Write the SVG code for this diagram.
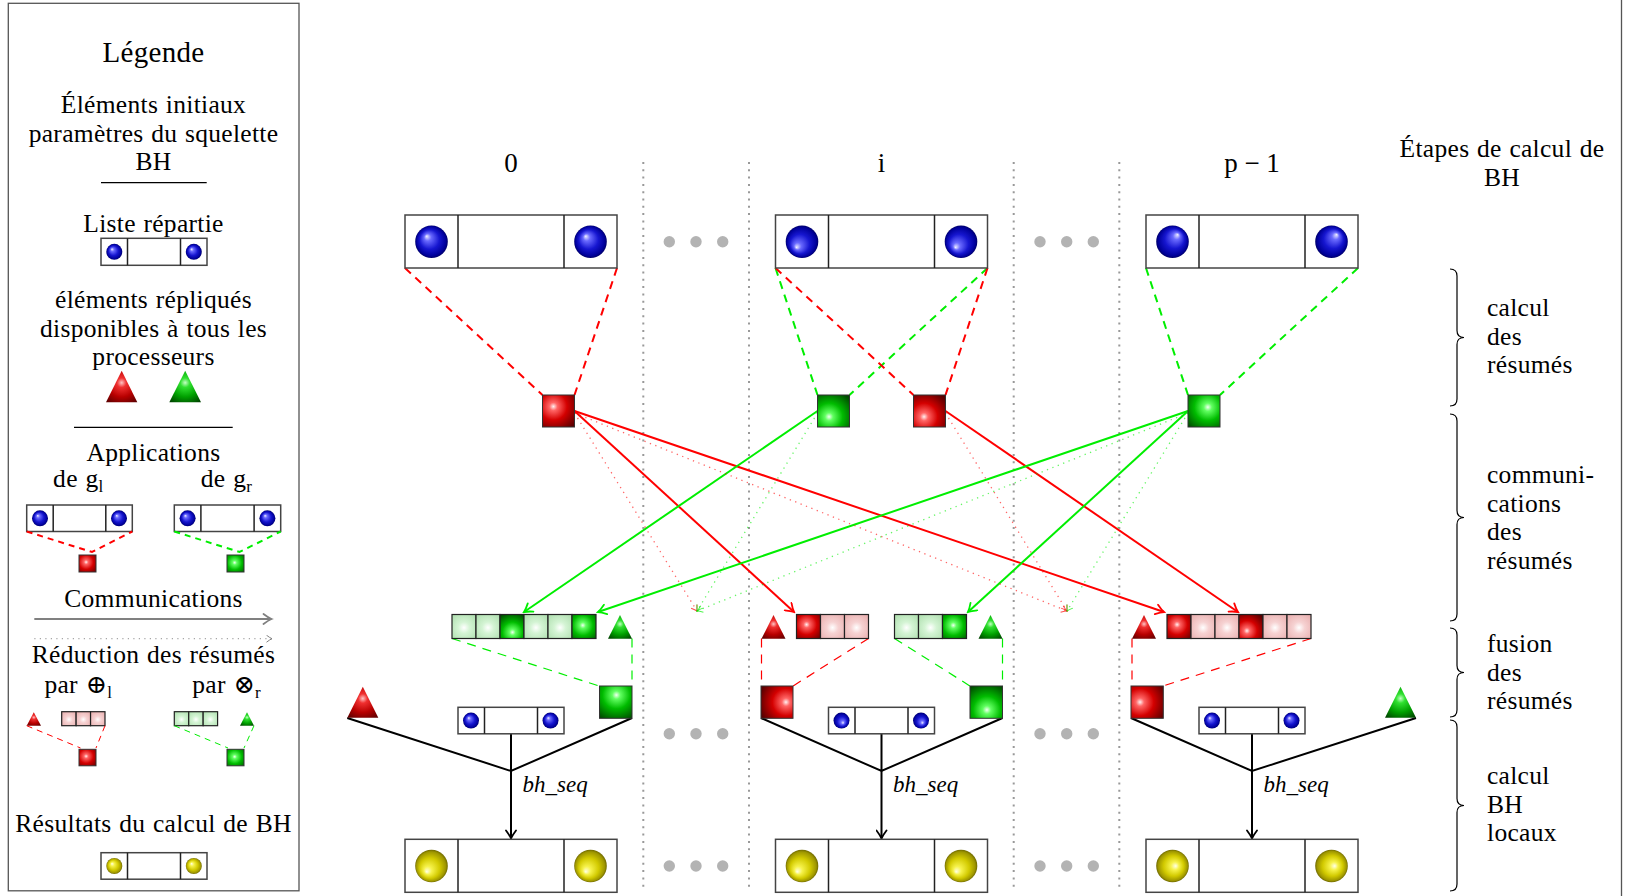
<svg xmlns="http://www.w3.org/2000/svg" width="1626" height="896" viewBox="0 0 1626 896">
<style>
.t{font-family:"Liberation Serif","DejaVu Serif",serif;font-size:25.5px;letter-spacing:0.3px;word-spacing:1px;fill:#000}
.c{text-anchor:middle}
.m{font-family:"Liberation Serif","DejaVu Serif",serif;font-size:27px;fill:#000;text-anchor:middle}
.it{font-family:"Liberation Serif","DejaVu Serif",serif;font-size:23px;font-style:italic;fill:#000}
.box{fill:#fff;stroke:#444;stroke-width:1.5}
.dv{stroke:#222;stroke-width:1.5}
.cell{stroke:#222;stroke-width:1.2}
.sq{stroke:#333;stroke-width:1}
.sep{stroke:#999;stroke-width:2;stroke-dasharray:2 5.3;fill:none}
.gd{fill:#b3b3b3}
.dR{stroke:#ff0000;stroke-width:2;stroke-dasharray:8 6;fill:none}
.dG{stroke:#00ee00;stroke-width:2;stroke-dasharray:8 6;fill:none}
.fR{stroke:#ff0000;stroke-width:1.2;stroke-dasharray:9 7;fill:none}
.fG{stroke:#00ee00;stroke-width:1.2;stroke-dasharray:9 7;fill:none}
.aR{stroke:#ff0000;stroke-width:2;fill:none;marker-end:url(#ahR)}
.aG{stroke:#00ee00;stroke-width:2;fill:none;marker-end:url(#ahG)}
.pR{stroke:#ff0000;stroke-opacity:0.6;stroke-width:1.3;stroke-dasharray:1.3 4.5;fill:none;marker-end:url(#phR)}
.pG{stroke:#00ee00;stroke-opacity:0.6;stroke-width:1.3;stroke-dasharray:1.3 4.5;fill:none;marker-end:url(#phG)}
.bl{stroke:#000;stroke-width:2;fill:none}
.rule{stroke:#000;stroke-width:1.3}
.brace{stroke:#000;stroke-width:1.2;fill:none}
</style>
<defs>
<marker id="ahR" viewBox="-10 -6 12 12" refX="0" refY="0" markerWidth="12" markerHeight="12" markerUnits="userSpaceOnUse" orient="auto"><path d="M-8,-5 Q-3,-1.2 0,0 Q-3,1.2 -8,5" fill="none" stroke="#ff0000" stroke-width="1.8" stroke-linecap="round"/></marker>
<marker id="ahG" viewBox="-10 -6 12 12" refX="0" refY="0" markerWidth="12" markerHeight="12" markerUnits="userSpaceOnUse" orient="auto"><path d="M-8,-5 Q-3,-1.2 0,0 Q-3,1.2 -8,5" fill="none" stroke="#00ee00" stroke-width="1.8" stroke-linecap="round"/></marker>
<marker id="ahK" viewBox="-10 -6 12 12" refX="0" refY="0" markerWidth="12" markerHeight="12" markerUnits="userSpaceOnUse" orient="auto"><path d="M-8,-5 Q-3,-1.2 0,0 Q-3,1.2 -8,5" fill="none" stroke="#000" stroke-width="1.8" stroke-linecap="round"/></marker>
<marker id="ahY" viewBox="-10 -6 12 12" refX="0" refY="0" markerWidth="12" markerHeight="12" markerUnits="userSpaceOnUse" orient="auto"><path d="M-8,-5 Q-3,-1.2 0,0 Q-3,1.2 -8,5" fill="none" stroke="#808080" stroke-width="1.8" stroke-linecap="round"/></marker>
<marker id="phR" viewBox="-7 -4 8 8" refX="0" refY="0" markerWidth="8" markerHeight="8" markerUnits="userSpaceOnUse" orient="auto"><path d="M-5.5,-3.5 Q-2,-0.8 0,0 Q-2,0.8 -5.5,3.5" fill="none" stroke="#ff0000" stroke-opacity="0.7" stroke-width="1"/></marker>
<marker id="phG" viewBox="-7 -4 8 8" refX="0" refY="0" markerWidth="8" markerHeight="8" markerUnits="userSpaceOnUse" orient="auto"><path d="M-5.5,-3.5 Q-2,-0.8 0,0 Q-2,0.8 -5.5,3.5" fill="none" stroke="#00ee00" stroke-opacity="0.7" stroke-width="1"/></marker>
<marker id="phY" viewBox="-7 -4 8 8" refX="0" refY="0" markerWidth="8" markerHeight="8" markerUnits="userSpaceOnUse" orient="auto"><path d="M-5.5,-3.5 Q-2,-0.8 0,0 Q-2,0.8 -5.5,3.5" fill="none" stroke="#808080" stroke-width="1"/></marker>

<radialGradient id="bUL" cx="0.5" cy="0.5" r="0.5" fx="0.35" fy="0.33"><stop offset="0" stop-color="#f2f2ff"/><stop offset="0.22" stop-color="#6a6aff"/><stop offset="0.6" stop-color="#1616d0"/><stop offset="0.9" stop-color="#00009a"/><stop offset="1" stop-color="#00006a"/></radialGradient>
<radialGradient id="bLL" cx="0.5" cy="0.5" r="0.5" fx="0.33" fy="0.68"><stop offset="0" stop-color="#f2f2ff"/><stop offset="0.22" stop-color="#6a6aff"/><stop offset="0.6" stop-color="#1616d0"/><stop offset="0.9" stop-color="#00009a"/><stop offset="1" stop-color="#00006a"/></radialGradient>
<radialGradient id="bUR" cx="0.5" cy="0.5" r="0.5" fx="0.66" fy="0.28"><stop offset="0" stop-color="#f2f2ff"/><stop offset="0.22" stop-color="#6a6aff"/><stop offset="0.6" stop-color="#1616d0"/><stop offset="0.9" stop-color="#00009a"/><stop offset="1" stop-color="#00006a"/></radialGradient>
<radialGradient id="bLR" cx="0.5" cy="0.5" r="0.5" fx="0.6" fy="0.65"><stop offset="0" stop-color="#f2f2ff"/><stop offset="0.22" stop-color="#6a6aff"/><stop offset="0.6" stop-color="#1616d0"/><stop offset="0.9" stop-color="#00009a"/><stop offset="1" stop-color="#00006a"/></radialGradient>
<radialGradient id="yLL" cx="0.5" cy="0.5" r="0.5" fx="0.35" fy="0.68"><stop offset="0" stop-color="#ffffea"/><stop offset="0.25" stop-color="#f6f24a"/><stop offset="0.62" stop-color="#d2ca00"/><stop offset="0.9" stop-color="#9e9600"/><stop offset="1" stop-color="#6e6800"/></radialGradient>
<radialGradient id="yUL" cx="0.5" cy="0.5" r="0.5" fx="0.35" fy="0.35"><stop offset="0" stop-color="#ffffea"/><stop offset="0.25" stop-color="#f6f24a"/><stop offset="0.62" stop-color="#d2ca00"/><stop offset="0.9" stop-color="#9e9600"/><stop offset="1" stop-color="#6e6800"/></radialGradient>
<radialGradient id="yR" cx="0.5" cy="0.5" r="0.5" fx="0.6" fy="0.5"><stop offset="0" stop-color="#ffffea"/><stop offset="0.25" stop-color="#f6f24a"/><stop offset="0.62" stop-color="#d2ca00"/><stop offset="0.9" stop-color="#9e9600"/><stop offset="1" stop-color="#6e6800"/></radialGradient>

<radialGradient id="r1" cx="0.34" cy="0.36" r="0.85"><stop offset="0" stop-color="#fff0f0"/><stop offset="0.15" stop-color="#ff6464"/><stop offset="0.5" stop-color="#d40000"/><stop offset="1" stop-color="#5a0000"/></radialGradient>
<radialGradient id="r2" cx="0.33" cy="0.68" r="0.85"><stop offset="0" stop-color="#fff0f0"/><stop offset="0.15" stop-color="#ff6464"/><stop offset="0.5" stop-color="#d40000"/><stop offset="1" stop-color="#5a0000"/></radialGradient>
<radialGradient id="r3" cx="0.78" cy="0.5" r="0.85"><stop offset="0" stop-color="#fff0f0"/><stop offset="0.15" stop-color="#ff6464"/><stop offset="0.5" stop-color="#d40000"/><stop offset="1" stop-color="#5a0000"/></radialGradient>
<radialGradient id="r4" cx="0.28" cy="0.5" r="0.85"><stop offset="0" stop-color="#fff0f0"/><stop offset="0.15" stop-color="#ff6464"/><stop offset="0.5" stop-color="#d40000"/><stop offset="1" stop-color="#5a0000"/></radialGradient>
<radialGradient id="r5" cx="0.42" cy="0.42" r="0.85"><stop offset="0" stop-color="#fff0f0"/><stop offset="0.15" stop-color="#ff6464"/><stop offset="0.5" stop-color="#d40000"/><stop offset="1" stop-color="#5a0000"/></radialGradient>
<radialGradient id="g1" cx="0.36" cy="0.68" r="0.85"><stop offset="0" stop-color="#f0fff0"/><stop offset="0.15" stop-color="#60ff60"/><stop offset="0.5" stop-color="#00bc00"/><stop offset="1" stop-color="#004a00"/></radialGradient>
<radialGradient id="g2" cx="0.52" cy="0.28" r="0.85"><stop offset="0" stop-color="#f0fff0"/><stop offset="0.15" stop-color="#60ff60"/><stop offset="0.5" stop-color="#00bc00"/><stop offset="1" stop-color="#004a00"/></radialGradient>
<radialGradient id="g3" cx="0.52" cy="0.74" r="0.85"><stop offset="0" stop-color="#f0fff0"/><stop offset="0.15" stop-color="#60ff60"/><stop offset="0.5" stop-color="#00bc00"/><stop offset="1" stop-color="#004a00"/></radialGradient>
<radialGradient id="g4" cx="0.62" cy="0.38" r="0.85"><stop offset="0" stop-color="#f0fff0"/><stop offset="0.15" stop-color="#60ff60"/><stop offset="0.5" stop-color="#00bc00"/><stop offset="1" stop-color="#004a00"/></radialGradient>
<radialGradient id="g5" cx="0.45" cy="0.45" r="0.85"><stop offset="0" stop-color="#f0fff0"/><stop offset="0.15" stop-color="#60ff60"/><stop offset="0.5" stop-color="#00bc00"/><stop offset="1" stop-color="#004a00"/></radialGradient>
<radialGradient id="lr" cx="0.5" cy="0.55" r="0.8"><stop offset="0" stop-color="#ffffff"/><stop offset="0.3" stop-color="#f6d2d2"/><stop offset="1" stop-color="#e6a6a6"/></radialGradient>
<radialGradient id="lg" cx="0.5" cy="0.55" r="0.8"><stop offset="0" stop-color="#ffffff"/><stop offset="0.3" stop-color="#d4f4d4"/><stop offset="1" stop-color="#a6daa6"/></radialGradient>
<radialGradient id="tr" cx="0.5" cy="0.38" r="0.75"><stop offset="0" stop-color="#ffc4c4"/><stop offset="0.2" stop-color="#f03030"/><stop offset="0.6" stop-color="#b80000"/><stop offset="1" stop-color="#5e0000"/></radialGradient>
<radialGradient id="tg" cx="0.5" cy="0.38" r="0.75"><stop offset="0" stop-color="#c4ffc4"/><stop offset="0.2" stop-color="#30e030"/><stop offset="0.6" stop-color="#00a000"/><stop offset="1" stop-color="#004400"/></radialGradient>
</defs>

<rect x="0" y="0" width="1626" height="896" fill="#fff"/>

<g id="frame">
<rect x="8.3" y="3.3" width="290.7" height="887.5" fill="none" stroke="#555" stroke-width="1.3"/>
<line x1="1621.5" y1="0" x2="1621.5" y2="896" stroke="#555" stroke-width="1.3"/>
</g>

<g id="legend">
<text class="t c" x="153.5" y="61.7" style="font-size:29px">Légende</text>
<text class="t c" x="153.5" y="113">Éléments initiaux</text>
<text class="t c" x="153.5" y="141.7">paramètres du squelette</text>
<text class="t c" x="153.5" y="170">BH</text>
<line class="rule" x1="101" y1="182.7" x2="206.7" y2="182.7"/>
<text class="t c" x="153.5" y="231.7">Liste répartie</text>
<rect class="box" x="101" y="238.3" width="106" height="27"/>
<line class="dv" x1="127.5" y1="238.3" x2="127.5" y2="265.3"/>
<line class="dv" x1="180.5" y1="238.3" x2="180.5" y2="265.3"/>
<circle cx="114.3" cy="251.8" r="8" fill="url(#bUL)"/>
<circle cx="193.8" cy="251.8" r="8" fill="url(#bUL)"/>
<text class="t c" x="153.5" y="308.3">éléments répliqués</text>
<text class="t c" x="153.5" y="336.7">disponibles à tous les</text>
<text class="t c" x="153.5" y="365">processeurs</text>
<polygon points="121.7,370.7 106,402.3 137.3,402.3" fill="url(#tr)"/>
<polygon points="185.2,370.7 169.3,402.3 201,402.3" fill="url(#tg)"/>
<line class="rule" x1="74" y1="427.3" x2="232.7" y2="427.3"/>
<text class="t c" x="153.5" y="460.7">Applications</text>
<text class="t c" x="78.3" y="486.7">de g<tspan dy="5" style="font-size:17px">l</tspan></text>
<text class="t c" x="226.5" y="486.7">de g<tspan dy="5" style="font-size:17px">r</tspan></text>
<rect class="box" x="26.7" y="505" width="105.6" height="26.5"/>
<line class="dv" x1="53.2" y1="505" x2="53.2" y2="531.5"/>
<line class="dv" x1="105.8" y1="505" x2="105.8" y2="531.5"/>
<circle cx="40" cy="518.3" r="8" fill="url(#bUL)"/>
<circle cx="119" cy="518.3" r="8" fill="url(#bUL)"/>
<rect class="box" x="174.3" y="505" width="106.4" height="26.5"/>
<line class="dv" x1="200.9" y1="505" x2="200.9" y2="531.5"/>
<line class="dv" x1="254.1" y1="505" x2="254.1" y2="531.5"/>
<circle cx="187.6" cy="518.3" r="8" fill="url(#bUL)"/>
<circle cx="267.4" cy="518.3" r="8" fill="url(#bUL)"/>
<path d="M26.7,531.5 L92,552 L132.3,531.5" fill="none" stroke="#ff0000" stroke-width="2" stroke-dasharray="6 5"/>
<path d="M174.3,531.5 L239.5,552 L280.7,531.5" fill="none" stroke="#00ee00" stroke-width="2" stroke-dasharray="6 5"/>
<rect class="sq" x="79" y="555" width="17" height="17" fill="url(#r5)"/>
<rect class="sq" x="227" y="555" width="17" height="17" fill="url(#g5)"/>
<text class="t c" x="153.5" y="606.7">Communications</text>
<line x1="34.3" y1="619" x2="271.5" y2="619" stroke="#808080" stroke-width="2" marker-end="url(#ahY)"/>
<line x1="34.3" y1="638.7" x2="272" y2="638.7" stroke="#808080" stroke-opacity="0.7" stroke-width="1.2" stroke-dasharray="1.2 4.3" marker-end="url(#phY)"/>
<text class="t c" x="153.5" y="662.7">Réduction des résumés</text>
<text class="t c" x="78.3" y="693.3">par ⊕<tspan dy="5" style="font-size:17px">l</tspan></text>
<text class="t c" x="226.7" y="693.3">par ⊗<tspan dy="5" style="font-size:17px">r</tspan></text>
<polygon points="33.8,712.3 26.7,725.7 41,725.7" fill="url(#tr)"/>
<rect class="cell" x="61.7" y="711.7" width="14.43" height="14" fill="url(#lr)"/>
<rect class="cell" x="76.13" y="711.7" width="14.43" height="14" fill="url(#lr)"/>
<rect class="cell" x="90.56" y="711.7" width="14.43" height="14" fill="url(#lr)"/>
<path d="M26.7,725.7 L80.5,748 M105,725.7 L96,748" fill="none" stroke="#ff0000" stroke-width="1" stroke-dasharray="6 5"/>
<rect class="sq" x="79" y="749.3" width="17" height="16.5" fill="url(#r5)"/>
<rect class="cell" x="174.3" y="711.7" width="14.43" height="14" fill="url(#lg)"/>
<rect class="cell" x="188.73" y="711.7" width="14.43" height="14" fill="url(#lg)"/>
<rect class="cell" x="203.16" y="711.7" width="14.43" height="14" fill="url(#lg)"/>
<polygon points="247,712.3 240,725.7 254,725.7" fill="url(#tg)"/>
<path d="M174.3,725.7 L228,748 M254,725.7 L244,748" fill="none" stroke="#00ee00" stroke-width="1" stroke-dasharray="6 5"/>
<rect class="sq" x="227" y="749.3" width="17" height="16.5" fill="url(#g5)"/>
<text class="t c" x="153.5" y="831.7">Résultats du calcul de BH</text>
<rect class="box" x="101" y="852.7" width="106" height="26.5"/>
<line class="dv" x1="127.5" y1="852.7" x2="127.5" y2="879.2"/>
<line class="dv" x1="180.5" y1="852.7" x2="180.5" y2="879.2"/>
<circle cx="114.3" cy="866" r="8" fill="url(#yUL)"/>
<circle cx="193.8" cy="866" r="8" fill="url(#yUL)"/>
</g>

<g id="separators">
<line class="sep" x1="643.3" y1="162" x2="643.3" y2="892"/>
<line class="sep" x1="749" y1="162" x2="749" y2="892"/>
<line class="sep" x1="1013.7" y1="162" x2="1013.7" y2="892"/>
<line class="sep" x1="1119.3" y1="162" x2="1119.3" y2="892"/>
</g>
<g id="ellipses">
<circle class="gd" cx="669.3" cy="241.7" r="5.7"/><circle class="gd" cx="696" cy="241.7" r="5.7"/><circle class="gd" cx="722.7" cy="241.7" r="5.7"/>
<circle class="gd" cx="669.3" cy="733.7" r="5.7"/><circle class="gd" cx="696" cy="733.7" r="5.7"/><circle class="gd" cx="722.7" cy="733.7" r="5.7"/>
<circle class="gd" cx="669.3" cy="866" r="5.7"/><circle class="gd" cx="696" cy="866" r="5.7"/><circle class="gd" cx="722.7" cy="866" r="5.7"/>
<circle class="gd" cx="1040" cy="241.7" r="5.7"/><circle class="gd" cx="1066.7" cy="241.7" r="5.7"/><circle class="gd" cx="1093.3" cy="241.7" r="5.7"/>
<circle class="gd" cx="1040" cy="733.7" r="5.7"/><circle class="gd" cx="1066.7" cy="733.7" r="5.7"/><circle class="gd" cx="1093.3" cy="733.7" r="5.7"/>
<circle class="gd" cx="1040" cy="866" r="5.7"/><circle class="gd" cx="1066.7" cy="866" r="5.7"/><circle class="gd" cx="1093.3" cy="866" r="5.7"/>
</g>

<g id="connectors">
<line class="dR" x1="405" y1="268" x2="542.5" y2="395"/>
<line class="dR" x1="617" y1="268" x2="574.5" y2="395"/>
<line class="dG" x1="775.5" y1="268" x2="817.5" y2="395"/>
<line class="dG" x1="987.5" y1="268" x2="849.5" y2="395"/>
<line class="dR" x1="775.5" y1="268" x2="913.5" y2="395"/>
<line class="dR" x1="987.5" y1="268" x2="945.5" y2="395"/>
<line class="dG" x1="1146" y1="268" x2="1188" y2="395"/>
<line class="dG" x1="1358" y1="268" x2="1220" y2="395"/>
<line class="aR" x1="574.5" y1="411" x2="794" y2="612"/>
<line class="aR" x1="574.5" y1="411" x2="1164" y2="612"/>
<line class="aR" x1="945.5" y1="411" x2="1238" y2="612"/>
<line class="aG" x1="817.5" y1="411" x2="524" y2="612"/>
<line class="aG" x1="1188" y1="411" x2="598" y2="612"/>
<line class="aG" x1="1188" y1="411" x2="968" y2="612"/>
<line class="pR" x1="574.5" y1="413" x2="697" y2="611"/>
<line class="pR" x1="574.5" y1="413" x2="1067" y2="611"/>
<line class="pR" x1="945.5" y1="413" x2="1067" y2="611"/>
<line class="pG" x1="817.5" y1="413" x2="697" y2="611"/>
<line class="pG" x1="1188" y1="413" x2="697" y2="611"/>
<line class="pG" x1="1188" y1="413" x2="1067" y2="611"/>
<line class="fG" x1="452" y1="638.5" x2="599" y2="686"/>
<line class="fG" x1="632" y1="638.5" x2="632" y2="686"/>
<line class="fR" x1="761.5" y1="638.5" x2="761.5" y2="686"/>
<line class="fR" x1="868.5" y1="638.5" x2="793" y2="686"/>
<line class="fG" x1="894.5" y1="638.5" x2="970" y2="686"/>
<line class="fG" x1="1002.5" y1="638.5" x2="1002.5" y2="686"/>
<line class="fR" x1="1132" y1="638.5" x2="1132" y2="686"/>
<line class="fR" x1="1311" y1="638.5" x2="1163" y2="686"/>
<path class="bl" d="M347.3,718 L511,771 L632,718 M511,734 L511,771"/>
<line class="bl" x1="511" y1="771" x2="511" y2="838.5" marker-end="url(#ahK)"/>
<path class="bl" d="M761,718 L881.5,771 L1002.5,718 M881.5,734 L881.5,771"/>
<line class="bl" x1="881.5" y1="771" x2="881.5" y2="838.5" marker-end="url(#ahK)"/>
<path class="bl" d="M1131,718 L1252,771 L1416,718 M1252,734 L1252,771"/>
<line class="bl" x1="1252" y1="771" x2="1252" y2="838.5" marker-end="url(#ahK)"/>
</g>

<g id="proc-0">
<text class="m" x="511" y="172">0</text>
<rect class="box" x="405" y="215" width="212" height="53"/>
<line class="dv" x1="458" y1="215" x2="458" y2="268"/>
<line class="dv" x1="564" y1="215" x2="564" y2="268"/>
<circle cx="431.5" cy="241.7" r="16.3" fill="url(#bUL)"/>
<circle cx="590.5" cy="241.7" r="16.3" fill="url(#bUL)"/>
</g>
<g id="summary-l-0"><rect class="sq" x="542.5" y="395" width="32" height="32" fill="url(#r1)"/></g>
<g id="bar-g-0">
<rect class="cell" x="452" y="614.5" width="24" height="24" fill="url(#lg)"/>
<rect class="cell" x="476" y="614.5" width="24" height="24" fill="url(#lg)"/>
<rect class="cell" x="500" y="614.5" width="24" height="24" fill="url(#g3)"/>
<rect class="cell" x="524" y="614.5" width="24" height="24" fill="url(#lg)"/>
<rect class="cell" x="548" y="614.5" width="24" height="24" fill="url(#lg)"/>
<rect class="cell" x="572" y="614.5" width="24" height="24" fill="url(#g5)"/>
</g>
<g id="tri-g-0"><polygon points="620,615 608,638.7 632,638.7" fill="url(#tg)"/></g>
<g id="fused-r-0"><polygon points="362.8,686.7 347.3,717.7 378.3,717.7" fill="url(#tr)"/></g>
<g id="fused-g-0"><rect class="sq" x="599.5" y="686" width="32.5" height="32.3" fill="url(#g2)"/></g>
<g id="local-0">
<rect class="box" x="458" y="707.3" width="106" height="26.5"/>
<line class="dv" x1="484.5" y1="707.3" x2="484.5" y2="733.8"/>
<line class="dv" x1="537.5" y1="707.3" x2="537.5" y2="733.8"/>
<circle cx="471" cy="720.6" r="8" fill="url(#bUL)"/>
<circle cx="550.5" cy="720.6" r="8" fill="url(#bUL)"/>
<text class="it" x="522.5" y="792">bh_seq</text>
</g>
<g id="result-0">
<rect class="box" x="405" y="839.3" width="212" height="53"/>
<line class="dv" x1="458" y1="839.3" x2="458" y2="892.3"/>
<line class="dv" x1="564" y1="839.3" x2="564" y2="892.3"/>
<circle cx="431.5" cy="866" r="16.3" fill="url(#yLL)"/>
<circle cx="590.5" cy="866" r="16.3" fill="url(#yLL)"/>
</g>

<g id="proc-i">
<text class="m" x="881.5" y="172">i</text>
<rect class="box" x="775.5" y="215" width="212" height="53"/>
<line class="dv" x1="828.5" y1="215" x2="828.5" y2="268"/>
<line class="dv" x1="934.5" y1="215" x2="934.5" y2="268"/>
<circle cx="802" cy="241.7" r="16.3" fill="url(#bLL)"/>
<circle cx="961" cy="241.7" r="16.3" fill="url(#bLL)"/>
</g>
<g id="summary-r-i"><rect class="sq" x="817.5" y="395" width="32" height="32" fill="url(#g1)"/></g>
<g id="summary-l-i"><rect class="sq" x="913.5" y="395" width="32" height="32" fill="url(#r2)"/></g>
<g id="tri-r-i"><polygon points="773.5,615 761.5,638.7 785.5,638.7" fill="url(#tr)"/></g>
<g id="bar-r-i">
<rect class="cell" x="796.5" y="614.5" width="24" height="24" fill="url(#r5)"/>
<rect class="cell" x="820.5" y="614.5" width="24" height="24" fill="url(#lr)"/>
<rect class="cell" x="844.5" y="614.5" width="24" height="24" fill="url(#lr)"/>
</g>
<g id="bar-g-i">
<rect class="cell" x="894.5" y="614.5" width="24" height="24" fill="url(#lg)"/>
<rect class="cell" x="918.5" y="614.5" width="24" height="24" fill="url(#lg)"/>
<rect class="cell" x="942.5" y="614.5" width="24" height="24" fill="url(#g5)"/>
</g>
<g id="tri-g-i"><polygon points="990.5,615 978.5,638.7 1002.5,638.7" fill="url(#tg)"/></g>
<g id="fused-r-i"><rect class="sq" x="761" y="686" width="32" height="32.3" fill="url(#r3)"/></g>
<g id="fused-g-i"><rect class="sq" x="970" y="686" width="32.5" height="32.3" fill="url(#g3)"/></g>
<g id="local-i">
<rect class="box" x="828.5" y="707.3" width="106" height="26.5"/>
<line class="dv" x1="855" y1="707.3" x2="855" y2="733.8"/>
<line class="dv" x1="908" y1="707.3" x2="908" y2="733.8"/>
<circle cx="841.5" cy="720.6" r="8" fill="url(#bLR)"/>
<circle cx="921" cy="720.6" r="8" fill="url(#bLR)"/>
<text class="it" x="893" y="792">bh_seq</text>
</g>
<g id="result-i">
<rect class="box" x="775.5" y="839.3" width="212" height="53"/>
<line class="dv" x1="828.5" y1="839.3" x2="828.5" y2="892.3"/>
<line class="dv" x1="934.5" y1="839.3" x2="934.5" y2="892.3"/>
<circle cx="802" cy="866" r="16.3" fill="url(#yLL)"/>
<circle cx="961" cy="866" r="16.3" fill="url(#yLL)"/>
</g>

<g id="proc-p-1">
<text class="m" x="1252" y="172">p − 1</text>
<rect class="box" x="1146" y="215" width="212" height="53"/>
<line class="dv" x1="1199" y1="215" x2="1199" y2="268"/>
<line class="dv" x1="1305" y1="215" x2="1305" y2="268"/>
<circle cx="1172.5" cy="241.7" r="16.3" fill="url(#bUR)"/>
<circle cx="1331.5" cy="241.7" r="16.3" fill="url(#bUR)"/>
</g>
<g id="summary-r-p-1"><rect class="sq" x="1188" y="395" width="32" height="32" fill="url(#g4)"/></g>
<g id="tri-r-p-1"><polygon points="1144,615 1132,638.7 1156,638.7" fill="url(#tr)"/></g>
<g id="bar-r-p-1">
<rect class="cell" x="1167" y="614.5" width="24" height="24" fill="url(#r5)"/>
<rect class="cell" x="1191" y="614.5" width="24" height="24" fill="url(#lr)"/>
<rect class="cell" x="1215" y="614.5" width="24" height="24" fill="url(#lr)"/>
<rect class="cell" x="1239" y="614.5" width="24" height="24" fill="url(#r2)"/>
<rect class="cell" x="1263" y="614.5" width="24" height="24" fill="url(#lr)"/>
<rect class="cell" x="1287" y="614.5" width="24" height="24" fill="url(#lr)"/>
</g>
<g id="fused-r-p-1"><rect class="sq" x="1131" y="686" width="32.3" height="32.3" fill="url(#r4)"/></g>
<g id="fused-g-p-1"><polygon points="1400.5,686.7 1385,717.7 1416,717.7" fill="url(#tg)"/></g>
<g id="local-p-1">
<rect class="box" x="1199" y="707.3" width="106" height="26.5"/>
<line class="dv" x1="1225.5" y1="707.3" x2="1225.5" y2="733.8"/>
<line class="dv" x1="1278.5" y1="707.3" x2="1278.5" y2="733.8"/>
<circle cx="1212" cy="720.6" r="8" fill="url(#bUL)"/>
<circle cx="1291.5" cy="720.6" r="8" fill="url(#bUL)"/>
<text class="it" x="1263.5" y="792">bh_seq</text>
</g>
<g id="result-p-1">
<rect class="box" x="1146" y="839.3" width="212" height="53"/>
<line class="dv" x1="1199" y1="839.3" x2="1199" y2="892.3"/>
<line class="dv" x1="1305" y1="839.3" x2="1305" y2="892.3"/>
<circle cx="1172.5" cy="866" r="16.3" fill="url(#yR)"/>
<circle cx="1331.5" cy="866" r="16.3" fill="url(#yR)"/>
</g>

<g id="stages">
<text class="t c" x="1502" y="157">Étapes de calcul de</text>
<text class="t c" x="1502" y="185.5">BH</text>
<path class="brace" d="M1450,269 Q1457,269 1457,276 L1457,330.5 Q1457,337.5 1464,337.5 Q1457,337.5 1457,344.5 L1457,399 Q1457,406 1450,406"/>
<path class="brace" d="M1450,414 Q1457,414 1457,421 L1457,510.5 Q1457,517.5 1464,517.5 Q1457,517.5 1457,524.5 L1457,614 Q1457,621 1450,621"/>
<path class="brace" d="M1450,628 Q1457,628 1457,635 L1457,665.5 Q1457,672.5 1464,672.5 Q1457,672.5 1457,679.5 L1457,710 Q1457,717 1450,717"/>
<path class="brace" d="M1450,720 Q1457,720 1457,727 L1457,798.5 Q1457,805.5 1464,805.5 Q1457,805.5 1457,812.5 L1457,884 Q1457,891 1450,891"/>
<text class="t" x="1487" y="316">calcul</text>
<text class="t" x="1487" y="344.5">des</text>
<text class="t" x="1487" y="373">résumés</text>
<text class="t" x="1487" y="483">communi-</text>
<text class="t" x="1487" y="511.5">cations</text>
<text class="t" x="1487" y="540">des</text>
<text class="t" x="1487" y="568.5">résumés</text>
<text class="t" x="1487" y="652">fusion</text>
<text class="t" x="1487" y="680.5">des</text>
<text class="t" x="1487" y="709">résumés</text>
<text class="t" x="1487" y="784">calcul</text>
<text class="t" x="1487" y="812.5">BH</text>
<text class="t" x="1487" y="841">locaux</text>
</g>
</svg>
